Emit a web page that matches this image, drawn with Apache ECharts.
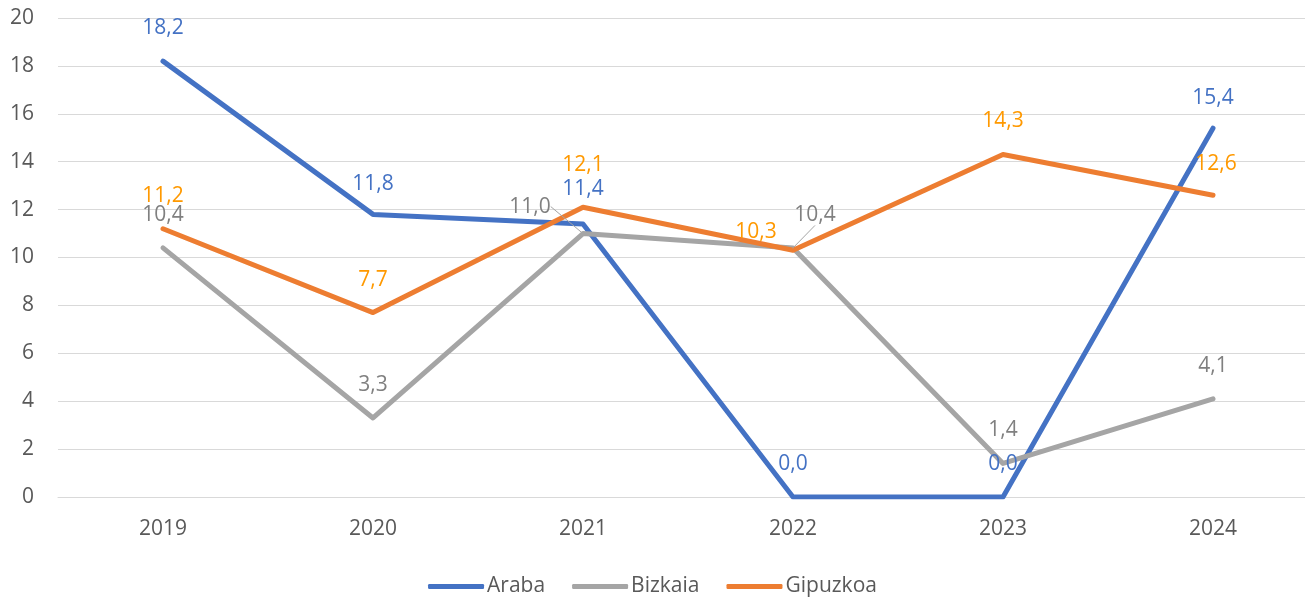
<!DOCTYPE html>
<html>
<head>
<meta charset="utf-8">
<script src="https://cdn.jsdelivr.net/npm/echarts@6/dist/echarts.min.js"></script>
<style>
  html, body { margin: 0; padding: 0; background: #fff; }
  #chart { width: 1305px; height: 600px; }
</style>
</head>
<body>
<div id="chart"></div>
<script>
var years = ['2019', '2020', '2021', '2022', '2023', '2024'];
var araba = [18.2, 11.8, 11.4, 0.0, 0.0, 15.4];
var bizkaia = [10.4, 3.3, 11.0, 10.4, 1.4, 4.1];
var gipuzkoa = [11.2, 7.7, 12.1, 10.3, 14.3, 12.6];

// manual label nudges, like the hand-placed labels in the original
var arabaOffsets = [[0, 0], [0, 3], [0, -2], [0, 0], [0, 0], [0, 3]];
var bizkaiaOffsets = [[0, 0], [0, 0], [-53, 6], [22, 0], [0, 0], [0, 0]];
var gipuzkoaOffsets = [[0, 0], [0, 0], [0, -9], [-37, 15], [0, 0], [3, 2]];
// which labels get a small leader line back to their point
var bizkaiaLeaders = [false, false, true, true, false, false];

var font = '"Open Sans", sans-serif';

function fmt (p) {
  return p.value.toFixed(1).replace('.', ',');
}

function lineSeries (name, color, labelColor, values, offsets, leaders) {
  return {
    name: name,
    type: 'line',
    symbol: 'circle',
    symbolSize: 1,
    showSymbol: true,
    lineStyle: { color: color, width: 5, cap: 'round', join: 'round' },
    itemStyle: { color: color },
    label: {
      show: true,
      position: 'top',
      distance: 22,
      color: labelColor,
      fontFamily: font,
      fontSize: 21,
      formatter: fmt
    },
    labelLine: { show: false, lineStyle: { color: '#A5A5A5', width: 1 } },
    labelLayout: function (params) {
      var o = offsets[params.dataIndex];
      return { dx: o[0], dy: o[1], hideOverlap: false };
    },
    emphasis: { disabled: true },
    data: values.map(function (v, i) {
      return leaders && leaders[i] ? { value: v, labelLine: { show: true } } : v;
    })
  };
}

var myChart = echarts.init(document.getElementById('chart'));
var option = {
  backgroundColor: '#fff',
  animation: false,
  grid: { left: 58, top: 18, width: 1260, height: 479, outerBoundsMode: 'none' },
  legend: {
    bottom: -2,
    left: 'center',
    itemWidth: 56,
    itemHeight: 5,
    itemGap: 27,
    icon: 'roundRect',
    textStyle: { color: '#595959', fontFamily: font, fontSize: 21, padding: [0, 0, 0, -2] },
    data: ['Araba', 'Bizkaia', 'Gipuzkoa']
  },
  xAxis: {
    type: 'category',
    boundaryGap: true,
    data: years,
    axisLine: { show: true, lineStyle: { color: '#D9D9D9', width: 1 } },
    axisTick: { show: false },
    axisLabel: { color: '#595959', fontFamily: font, fontSize: 21, margin: 22 }
  },
  yAxis: {
    type: 'value',
    min: 0,
    max: 20,
    interval: 2,
    axisLine: { show: false },
    axisTick: { show: false },
    splitLine: { lineStyle: { color: '#D9D9D9', width: 1 } },
    axisLabel: { color: '#595959', fontFamily: font, fontSize: 21, margin: 24 }
  },
  series: [
    lineSeries('Araba', '#4472C4', '#4472C4', araba, arabaOffsets, null),
    lineSeries('Bizkaia', '#A5A5A5', '#808080', bizkaia, bizkaiaOffsets, bizkaiaLeaders),
    lineSeries('Gipuzkoa', '#ED7D31', '#FF9900', gipuzkoa, gipuzkoaOffsets, null)
  ]
};
myChart.setOption(option);
</script>
</body>
</html>
